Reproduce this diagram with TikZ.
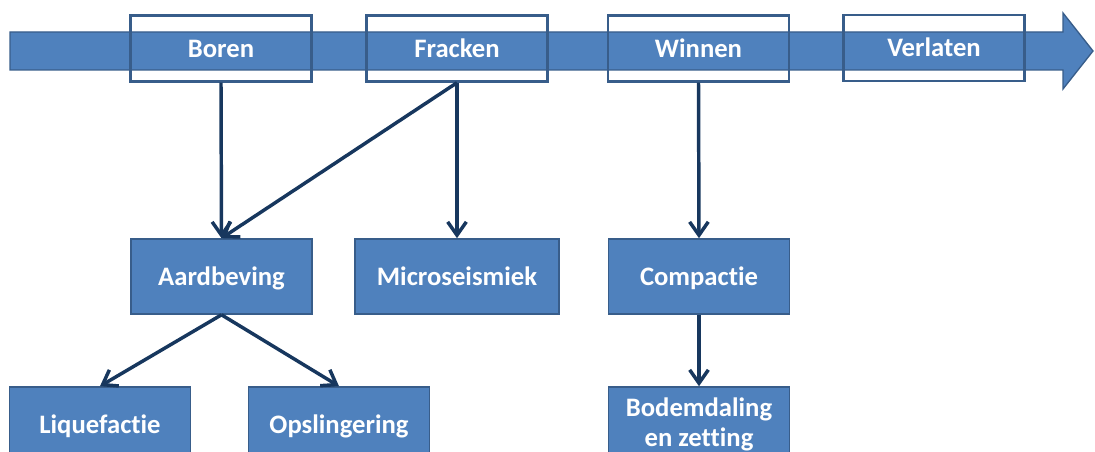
\documentclass[tikz,border=0pt]{standalone}
\usepackage{fontspec}
\setmainfont{Carlito}[Ligatures=NoCommon]
\usetikzlibrary{arrows.meta}
\definecolor{boxblue}{HTML}{4F81BD}
\definecolor{boxline}{HTML}{385D8A}
\definecolor{linkblue}{HTML}{17375E}

\begin{document}
\begin{tikzpicture}
      [x=0.75pt, y=-0.75pt,
      block/.style={draw=boxline, fill=boxblue, line width=1.2pt, minimum width=135.75pt,
        minimum height=56.25pt, inner sep=0pt, text=white, font=\fontsize{20}{23}\selectfont\bfseries},
      effect/.style={block, text height=13pt, text depth=0pt},
      phase/.style={draw=boxline, line width=1.8pt, minimum width=135.75pt, minimum height=49.5pt,
        inner sep=0pt, text=white, text height=13pt, text depth=0pt, font=\fontsize{20}{23}\selectfont\bfseries},
      link/.style={-{Straight Barb[length=10pt,width=14pt]}, draw=linkblue, line width=2.6pt},
      ]
      \clip (0,0) rectangle (1095,452);
      \fill[boxblue, draw=boxline, line width=1pt] (10,32) -- (1063,32) -- (1063,13) -- (1093,51)
        -- (1063,89) -- (1063,70) -- (10,70) -- cycle;

      \node[phase] (P1) at (221,48.5) {Boren};
      \node[phase] (P2) at (457,48.5) {Fracken};
      \node[phase] (P3) at (698.5,48.5) {Winnen};
      \node[phase] (P4) at (934,48) {Verlaten};

      \node[effect] (E1) at (221.5,276.5) {Aardbeving};
      \node[effect, minimum width=153pt] (E2) at (457,276.5) {Microseismiek};
      \node[effect] (E3) at (699,276.5) {Compactie};
      \node[effect] (E4) at (100,424.5) {Liquefactie};
      \node[effect] (E5) at (339,424.5) {Opslingering};
      \node[block, align=center] (E6) at (699,424.5) {Bodemdaling\\en zetting};

      \draw[link] (P1.south) -- (E1.north);
      \draw[link] (P2.south) -- (E1.north);
      \draw[link] (P2.south) -- (E2.north);
      \draw[link] (P3.south) -- (E3.north);
      \draw[link] (E3.south) -- (E6.north);
      \draw[link] (E1.south) -- (E4.north);
      \draw[link] (E1.south) -- (E5.north);
    \end{tikzpicture}
\end{document}
